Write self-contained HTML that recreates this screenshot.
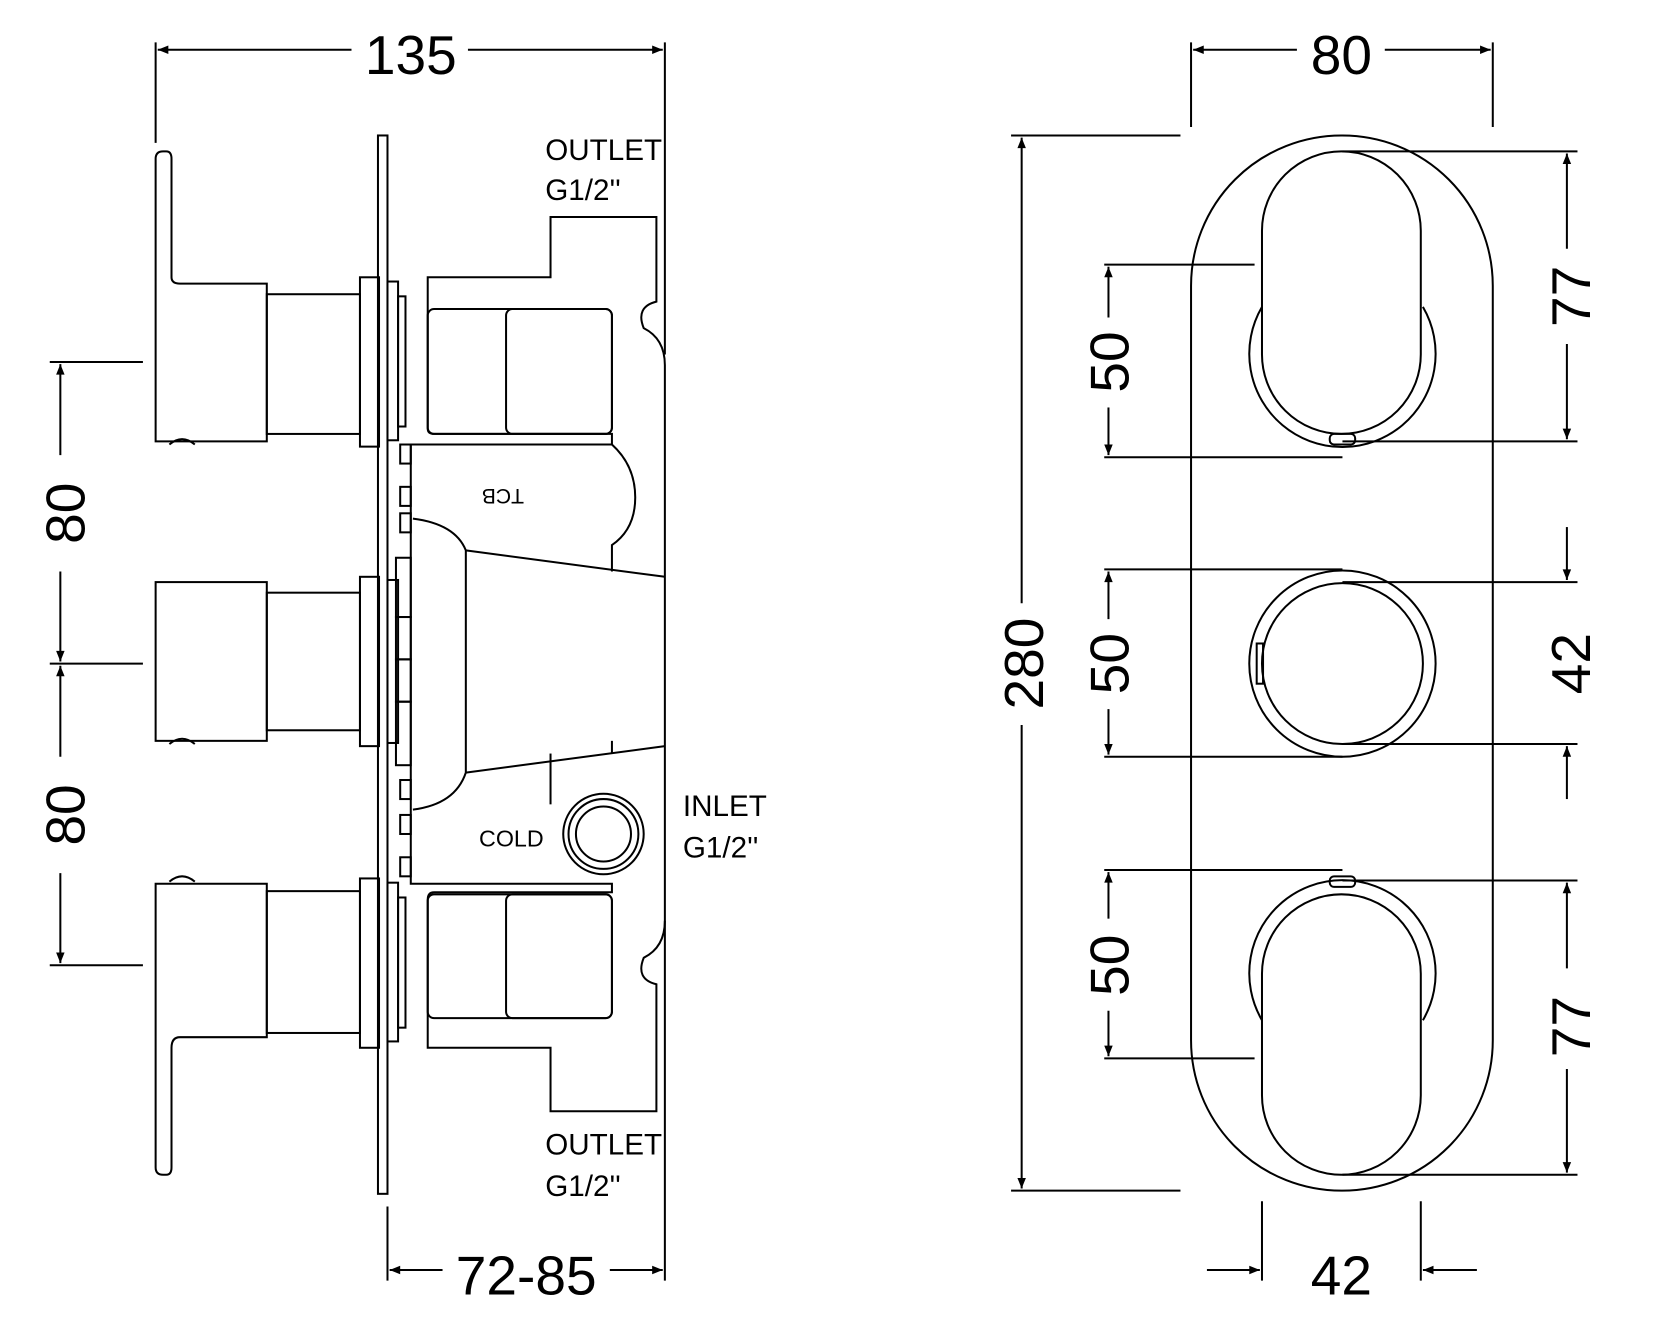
<!DOCTYPE html>
<html><head><meta charset="utf-8"><style>html,body{margin:0;padding:0;background:#fff}svg{display:block}
text{font-family:"Liberation Sans Narrow","Liberation Sans",sans-serif;fill:#000}</style></head><body>
<svg width="1659" height="1342" viewBox="0 0 1567 1268" preserveAspectRatio="none" xmlns="http://www.w3.org/2000/svg">
<defs><marker id="a" viewBox="0 0 10 10" refX="10" refY="5" markerWidth="26" markerHeight="10" markerUnits="userSpaceOnUse" orient="auto-start-reverse"><path d="M0,1 L10,5 L0,9 Z" fill="#000"/></marker></defs>
<g fill="none" stroke="#000" stroke-width="1.9">
<line x1="147" y1="40" x2="147" y2="135"/><line x1="628" y1="40" x2="628" y2="335"/>
<line x1="149" y1="47" x2="332" y2="47" marker-start="url(#a)"/><line x1="442" y1="47" x2="626" y2="47" marker-end="url(#a)"/>
<line x1="47" y1="342" x2="135" y2="342"/><line x1="47" y1="627" x2="135" y2="627"/><line x1="47" y1="912" x2="135" y2="912"/>
<line x1="57" y1="344" x2="57" y2="430" marker-start="url(#a)"/><line x1="57" y1="540" x2="57" y2="625" marker-end="url(#a)"/>
<line x1="57" y1="629" x2="57" y2="715" marker-start="url(#a)"/><line x1="57" y1="825" x2="57" y2="910" marker-end="url(#a)"/>
<rect x="357" y="128" width="9" height="1000"/>
<path d="M147,150 Q147,143 154,143 L157,143 Q162,143 162,150 L162,262 Q162,268 170,268 L252,268 L252,417 L147,417 Z"/>
<path d="M160,420 Q172,410 184,420"/>
<rect x="252" y="278" width="88" height="132"/><rect x="340" y="262" width="18" height="160"/>
<rect x="366" y="266" width="10" height="150"/><rect x="376" y="280" width="7" height="123"/>
<rect x="147" y="550" width="105" height="150"/><path d="M160,703 Q172,693 184,703"/>
<rect x="252" y="560" width="88" height="130"/><rect x="340" y="545" width="18" height="160"/>
<rect x="366" y="548" width="10" height="154"/>
<rect x="374" y="527" width="14" height="56"/><rect x="374" y="583" width="14" height="40"/><rect x="374" y="623" width="14" height="40"/><rect x="374" y="663" width="14" height="60"/>
<path d="M147,1103 Q147,1110 154,1110 L157,1110 Q162,1110 162,1103 L162,990 Q162,980 170,980 L252,980 L252,835 L147,835 Z"/>
<path d="M160,833 Q172,823 184,833"/>
<rect x="252" y="842" width="88" height="134"/><rect x="340" y="830" width="18" height="160"/>
<rect x="366" y="834" width="10" height="150"/><rect x="376" y="848" width="7" height="123"/>
<rect x="378" y="420" width="10" height="18"/><rect x="378" y="460" width="10" height="18"/><rect x="378" y="485" width="10" height="18"/>
<rect x="378" y="737" width="10" height="18"/><rect x="378" y="770" width="10" height="18"/><rect x="378" y="810" width="10" height="18"/>
<path d="M404,262 L404,405 Q404,410 410,410 L578,410 L578,420 L388,420 L388,835 L578,835 L578,843 L410,843 Q404,843 404,850 L404,990 L520,990 L520,1050 L620,1050 L620,930 Q600,925 608,905 Q628,895 628,870 L628,345 Q628,320 608,310 Q600,290 620,285 L620,205 L520,205 L520,262 Z"/>
<rect x="404" y="292" width="174" height="118" rx="6"/><rect x="478" y="292" width="100" height="118" rx="6"/>
<rect x="404" y="845" width="174" height="117" rx="6"/><rect x="478" y="845" width="100" height="117" rx="6"/>
<path d="M578,420 Q600,440 600,470 Q600,500 578,515 L578,540"/>
<path d="M390,490 Q430,495 440,520 L440,730 Q430,760 390,765"/>
<path d="M440,520 L628,545"/><path d="M440,730 L628,705"/>
<path d="M520,712 L520,760"/><path d="M578,712 L578,700"/>
<circle cx="570" cy="788" r="38"/><circle cx="570" cy="788" r="33"/><circle cx="570" cy="788" r="26"/>
<line x1="366" y1="1140" x2="366" y2="1210"/><line x1="628" y1="870" x2="628" y2="1210"/>
<line x1="368" y1="1200" x2="418" y2="1200" marker-start="url(#a)"/><line x1="576" y1="1200" x2="626" y2="1200" marker-end="url(#a)"/>

<rect x="1125" y="128" width="285" height="997" rx="142"/>
<line x1="955" y1="128" x2="1115" y2="128"/><line x1="955" y1="1125" x2="1115" y2="1125"/>
<line x1="965" y1="130" x2="965" y2="570" marker-start="url(#a)"/><line x1="965" y1="685" x2="965" y2="1123" marker-end="url(#a)"/>
<line x1="1125" y1="40" x2="1125" y2="120"/><line x1="1410" y1="40" x2="1410" y2="120"/>
<line x1="1127" y1="47" x2="1225" y2="47" marker-start="url(#a)"/><line x1="1308" y1="47" x2="1408" y2="47" marker-end="url(#a)"/>
<path d="M1192,290 A88,88 0 1 0 1344,290"/>
<rect x="1192" y="143" width="150" height="267" rx="75" fill="#fff"/>
<rect x="1256" y="410" width="24" height="10" rx="4"/>
<circle cx="1268" cy="627" r="88"/><circle cx="1268" cy="627" r="76"/>
<rect x="1187" y="608" width="6" height="38"/>
<path d="M1192,964 A88,88 0 1 1 1344,964"/>
<rect x="1192" y="845" width="150" height="265" rx="75" fill="#fff"/>
<rect x="1256" y="828" width="24" height="10" rx="4"/>
<line x1="1043" y1="250" x2="1185" y2="250"/><line x1="1043" y1="432" x2="1268" y2="432"/>
<line x1="1047" y1="252" x2="1047" y2="300" marker-start="url(#a)"/><line x1="1047" y1="385" x2="1047" y2="430" marker-end="url(#a)"/>
<line x1="1043" y1="538" x2="1268" y2="538"/><line x1="1043" y1="715" x2="1268" y2="715"/>
<line x1="1047" y1="540" x2="1047" y2="585" marker-start="url(#a)"/><line x1="1047" y1="670" x2="1047" y2="713" marker-end="url(#a)"/>
<line x1="1043" y1="822" x2="1268" y2="822"/><line x1="1043" y1="1000" x2="1185" y2="1000"/>
<line x1="1047" y1="824" x2="1047" y2="868" marker-start="url(#a)"/><line x1="1047" y1="955" x2="1047" y2="998" marker-end="url(#a)"/>
<line x1="1268" y1="143" x2="1490" y2="143"/><line x1="1268" y1="417" x2="1490" y2="417"/>
<line x1="1480" y1="145" x2="1480" y2="235" marker-start="url(#a)"/><line x1="1480" y1="325" x2="1480" y2="415" marker-end="url(#a)"/>
<line x1="1268" y1="550" x2="1490" y2="550"/><line x1="1268" y1="703" x2="1490" y2="703"/>
<line x1="1480" y1="498" x2="1480" y2="548" marker-end="url(#a)"/><line x1="1480" y1="755" x2="1480" y2="705" marker-end="url(#a)"/>
<line x1="1268" y1="832" x2="1490" y2="832"/><line x1="1268" y1="1110" x2="1490" y2="1110"/>
<line x1="1480" y1="834" x2="1480" y2="915" marker-start="url(#a)"/><line x1="1480" y1="1010" x2="1480" y2="1108" marker-end="url(#a)"/>
<line x1="1192" y1="1135" x2="1192" y2="1210"/><line x1="1342" y1="1135" x2="1342" y2="1210"/>
<line x1="1140" y1="1200" x2="1190" y2="1200" marker-end="url(#a)"/><line x1="1395" y1="1200" x2="1344" y2="1200" marker-end="url(#a)"/>
</g>
<g font-size="52">
<text x="388" y="70" text-anchor="middle">135</text>
<text x="497" y="1223" text-anchor="middle">72-85</text>
<text x="1267" y="70" text-anchor="middle">80</text>
<text x="1267" y="1223" text-anchor="middle">42</text>
<text transform="translate(80,485) rotate(-90)" text-anchor="middle">80</text>
<text transform="translate(80,770) rotate(-90)" text-anchor="middle">80</text>
<text transform="translate(985,627) rotate(-90)" text-anchor="middle">280</text>
<text transform="translate(1066,342) rotate(-90)" text-anchor="middle">50</text>
<text transform="translate(1066,627) rotate(-90)" text-anchor="middle">50</text>
<text transform="translate(1066,912) rotate(-90)" text-anchor="middle">50</text>
<text transform="translate(1502,280) rotate(-90)" text-anchor="middle">77</text>
<text transform="translate(1502,627) rotate(-90)" text-anchor="middle">42</text>
<text transform="translate(1502,970) rotate(-90)" text-anchor="middle">77</text>
</g>
<g font-size="28">
<text x="515" y="151">OUTLET</text><text x="515" y="189">G1/2''</text>
<text x="515" y="1091">OUTLET</text><text x="515" y="1130">G1/2''</text>
<text x="645" y="771">INLET</text><text x="645" y="810">G1/2''</text>
</g>
<text x="483" y="800" font-size="22" text-anchor="middle">COLD</text>
<text transform="translate(475,462) rotate(180)" font-size="20" text-anchor="middle">TCB</text>
</svg>
</body></html>
